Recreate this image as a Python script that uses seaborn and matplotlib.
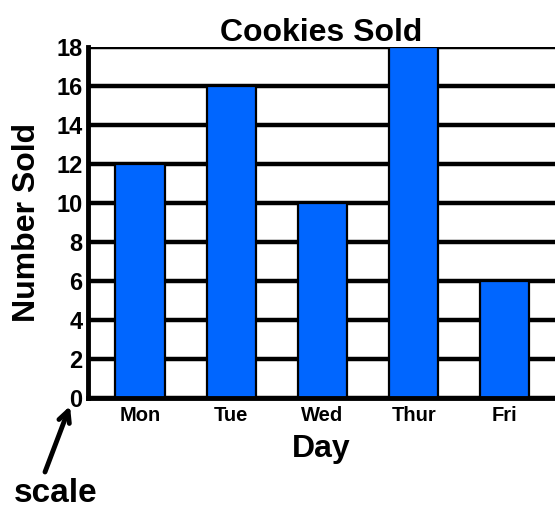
import pandas as pd
import numpy as np
import seaborn as sns
import matplotlib.pyplot as plt

dias = ['Mon', 'Tue', 'Wed', 'Thur', 'Fri']
vendidos = [12, 16, 10, 18, 6]
marcas_y = [0, 2, 4, 6, 8, 10, 12, 14, 16, 18]

dados = pd.DataFrame({'dia': dias, 'vendidos': vendidos})

sns.set_style('white')
plt.rcParams['font.family'] = ['Liberation Sans', 'DejaVu Sans']
plt.rcParams['font.weight'] = 'bold'
plt.rcParams['text.color'] = 'black'
plt.rcParams['axes.labelcolor'] = 'black'
plt.rcParams['xtick.color'] = 'black'
plt.rcParams['ytick.color'] = 'black'

fig = plt.figure(figsize=(5.55, 5.08), dpi=100)
ax = fig.add_axes([0.1586, 0.2165, 0.8414, 0.691])

sns.barplot(data=dados, x='dia', y='vendidos', color='#0066FF', saturation=1,
            width=0.54, edgecolor='black', linewidth=1.6, ax=ax, zorder=3)

ax.set_ylim(0, 18)
ax.set_xlim(-0.57, 4.55)
ax.set_yticks(marcas_y)
ax.yaxis.grid(True, color='black', linewidth=3.2, zorder=0)
ax.set_axisbelow(True)
for lado in ['top', 'right']:
    ax.spines[lado].set_visible(False)
for lado in ['left', 'bottom']:
    ax.spines[lado].set_linewidth(3.5)
    ax.spines[lado].set_color('black')
    ax.spines[lado].set_zorder(5)

ax.tick_params(axis='y', length=0, labelsize=17, pad=4)
ax.tick_params(axis='x', length=0, labelsize=14.5, pad=6)
for t in ax.get_xticklabels() + ax.get_yticklabels():
    t.set_fontweight('bold')

ax.set_title('Cookies Sold', fontsize=23, fontweight='bold', pad=4)
ax.set_xlabel('Day', fontsize=23, fontweight='bold', labelpad=6)
ax.set_ylabel('Number Sold', fontsize=23, fontweight='bold', labelpad=10)

# seta apontando pro zero
ax.annotate('', xy=(70, 508 - 406), xycoords='figure pixels',
            xytext=(45, 508 - 472), textcoords='figure pixels',
            arrowprops=dict(arrowstyle='->', color='black', lw=3.5,
                            shrinkA=0, shrinkB=0, mutation_scale=20))
fig.text(56, 508 - 493, 'scale', transform=None, fontsize=24,
         fontweight='bold', ha='center', va='center')

fig.savefig('out.png', dpi=100)
